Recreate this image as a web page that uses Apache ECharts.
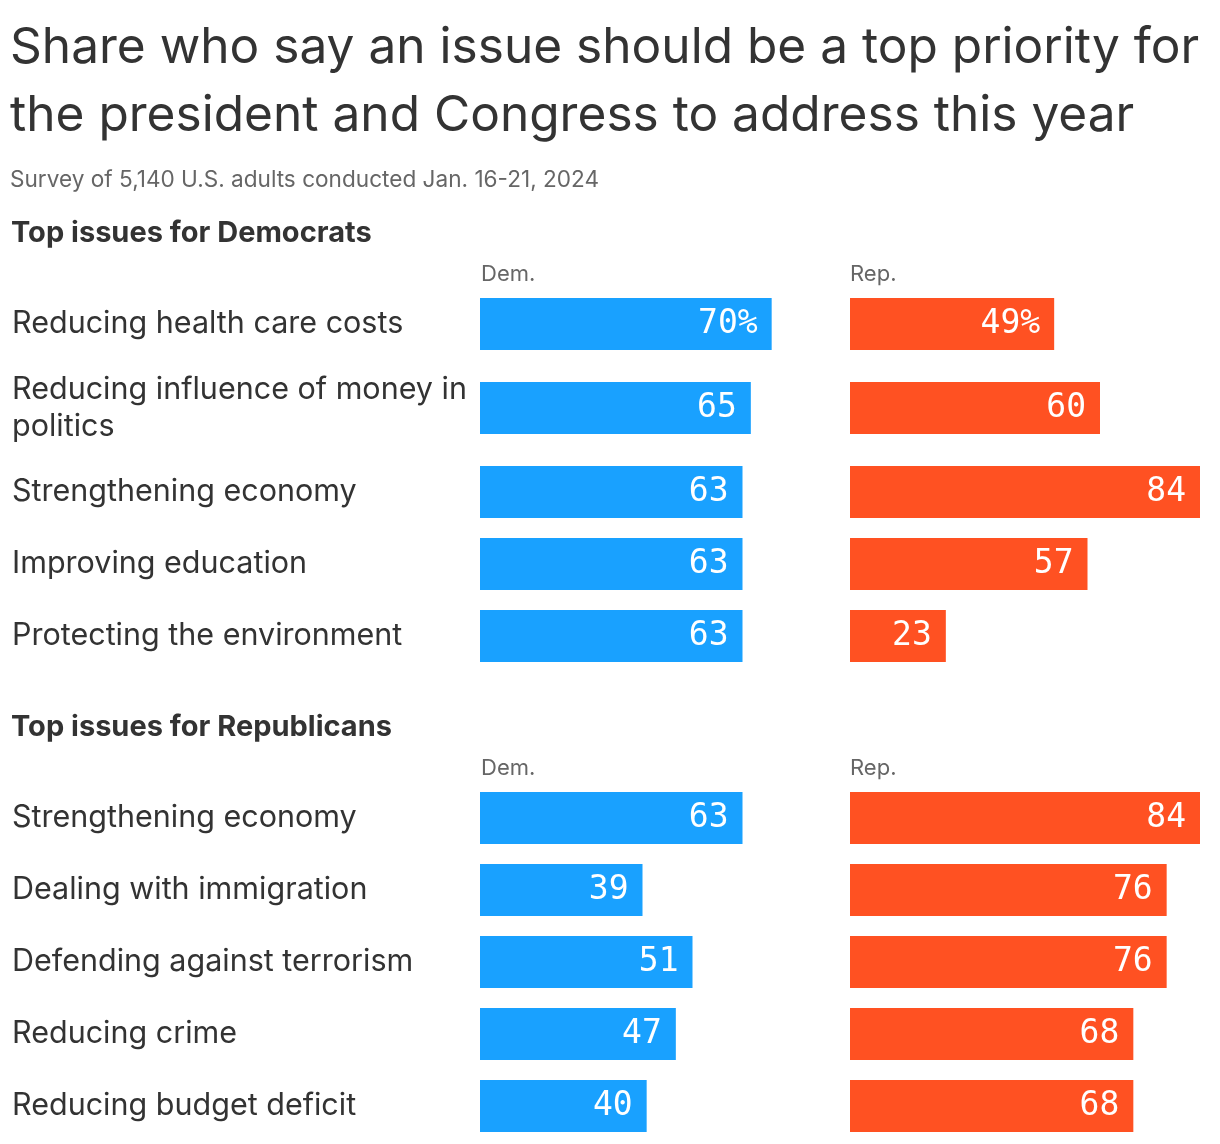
<!DOCTYPE html>
<html>
<head>
<meta charset="utf-8">
<script src="https://cdn.jsdelivr.net/npm/echarts@6/dist/echarts.min.js"></script>
<style>
html,body{margin:0;padding:0;background:#fff;}
#chart{width:1220px;height:1144px;}
</style>
</head>
<body>
<div id="chart"></div>
<script>
// ---- data ----
const titleText = 'Share who say an issue should be a top priority for\nthe president and Congress to address this year';
const subtitleText = 'Survey of 5,140 U.S. adults conducted Jan. 16-21, 2024';
const sectionTitles = ['Top issues for Democrats', 'Top issues for Republicans'];
const partyLabels = ['Dem.', 'Rep.'];

const demIssues = ['Reducing health care costs', 'Reducing influence of money in\npolitics', 'Strengthening economy', 'Improving education', 'Protecting the environment'];
const demIssuesDem = [70, 65, 63, 63, 63];
const demIssuesRep = [49, 60, 84, 57, 23];

const repIssues = ['Strengthening economy', 'Dealing with immigration', 'Defending against terrorism', 'Reducing crime', 'Reducing budget deficit'];
const repIssuesDem = [63, 39, 51, 47, 40];
const repIssuesRep = [84, 76, 76, 68, 68];

// ---- layout ----
const FONT = 'Inter, "Noto Sans", sans-serif';
const MONO = '"DejaVu Sans Mono", monospace';
const BLUE = '#19a1ff';
const RED = '#ff5122';
const TEXT = '#333333';
const GREY = '#666666';
const BAR_H = 52;
const DEM_LEFT = 480, REP_LEFT = 850, BAR_W = 350;
const sectionSlotTop = [288, 782];
const maxVal = Math.max(...demIssuesDem, ...demIssuesRep, ...repIssuesDem, ...repIssuesRep);

const sections = [
  {issues: demIssues, dem: demIssuesDem, rep: demIssuesRep},
  {issues: repIssues, dem: repIssuesDem, rep: repIssuesRep}
];

const grids = [], xAxes = [], yAxes = [], series = [];
let gi = 0;
let firstRow = true;
sections.forEach((sec, s) => {
  let y = sectionSlotTop[s];
  sec.issues.forEach((name, i) => {
    const slot = name.indexOf('\n') >= 0 ? 96 : 72;
    const center = y + slot / 2;
    const top = center - BAR_H / 2;
    const showPct = firstRow;
    [[DEM_LEFT, sec.dem[i], BLUE, true], [REP_LEFT, sec.rep[i], RED, false]].forEach(([left, val, color, isDem]) => {
      grids.push({left: left, top: top, width: BAR_W, height: BAR_H, containLabel: false});
      xAxes.push({type: 'value', gridIndex: gi, min: 0, max: maxVal, show: false});
      yAxes.push({
        type: 'category', gridIndex: gi, data: [name], inverse: true,
        axisLine: {show: false}, axisTick: {show: false}, splitLine: {show: false},
        axisLabel: {
          show: isDem, align: 'left', margin: DEM_LEFT - 12,
          fontFamily: FONT, fontSize: 30.5, color: TEXT, lineHeight: 37
        }
      });
      series.push({
        type: 'bar', xAxisIndex: gi, yAxisIndex: gi, data: [val],
        barWidth: BAR_H, itemStyle: {color: color}, silent: true,
        label: {
          show: true, position: 'insideRight', distance: 14,
          formatter: p => p.value + (showPct ? '%' : ''),
          fontFamily: MONO, fontSize: 33, color: '#ffffff'
        }
      });
      gi++;
    });
    firstRow = false;
    y += slot;
  });
});

const titles = [
  {text: titleText, left: 10, top: 14, textStyle: {fontFamily: FONT, fontSize: 49.6, fontWeight: 'normal', color: TEXT, lineHeight: 68}},
  {text: subtitleText, left: 10, top: 169, textStyle: {fontFamily: FONT, fontSize: 22.6, fontWeight: 'normal', color: GREY}},
  {text: sectionTitles[0], left: 11, top: 219, textStyle: {fontFamily: FONT, fontSize: 29, fontWeight: 'bold', color: TEXT}},
  {text: sectionTitles[1], left: 11, top: 713, textStyle: {fontFamily: FONT, fontSize: 29, fontWeight: 'bold', color: TEXT}},
  {text: partyLabels[0], left: 481, top: 263, textStyle: {fontFamily: FONT, fontSize: 22, fontWeight: 'normal', color: GREY}},
  {text: partyLabels[1], left: 850, top: 263, textStyle: {fontFamily: FONT, fontSize: 22, fontWeight: 'normal', color: GREY}},
  {text: partyLabels[0], left: 481, top: 757, textStyle: {fontFamily: FONT, fontSize: 22, fontWeight: 'normal', color: GREY}},
  {text: partyLabels[1], left: 850, top: 757, textStyle: {fontFamily: FONT, fontSize: 22, fontWeight: 'normal', color: GREY}}
].map(t => Object.assign({padding: 0}, t));

const chart = echarts.init(document.getElementById('chart'), null, {renderer: 'canvas'});
chart.setOption({
  animation: false,
  backgroundColor: '#ffffff',
  title: titles,
  grid: grids,
  xAxis: xAxes,
  yAxis: yAxes,
  series: series
});
</script>
</body>
</html>
